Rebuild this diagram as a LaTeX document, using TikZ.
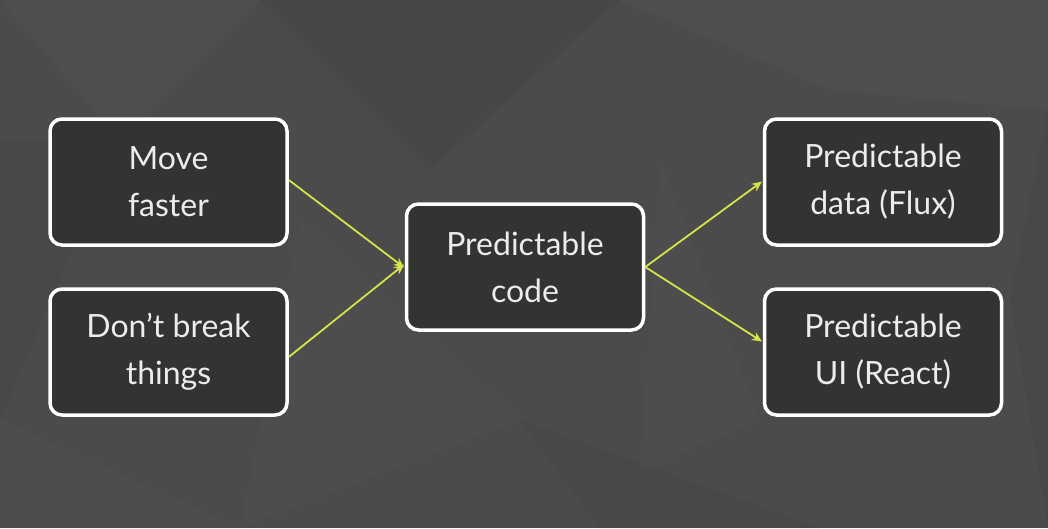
\documentclass[tikz,border=0pt]{standalone}
\usepackage{fontspec}
\setmainfont{Lato}
\usetikzlibrary{arrows.meta}
\definecolor{bgc}{HTML}{4A4B4A}
\definecolor{bgl}{HTML}{525352}
\definecolor{bgd}{HTML}{434443}
\definecolor{boxfill}{HTML}{333333}
\definecolor{txt}{HTML}{ECECEC}
\definecolor{arr}{HTML}{D6E34A}
\tikzset{
  card/.style={draw=white, line width=3.5pt, fill=boxfill, rounded corners=12pt,
    minimum width=237pt, minimum height=126pt, align=center, text=txt,
    font=\fontsize{32}{47}\selectfont, inner sep=0pt},
  link/.style={draw=arr, line width=1.8pt, -{Stealth[length=10pt,width=9pt]}, shorten >=1pt}
}
\begin{document}
\begin{tikzpicture}[x=1pt,y=-1pt]
\useasboundingbox (0,0) rectangle (1048,528);
\fill[bgc] (0,0) rectangle (1048,528);
\fill[bgl,opacity=0.45] (0,0) -- (260,0) -- (120,140) -- cycle;
\fill[bgd,opacity=0.45] (260,0) -- (620,0) -- (430,170) -- cycle;
\fill[bgl,opacity=0.4] (620,0) -- (1048,0) -- (1048,110) -- (830,90) -- cycle;
\fill[bgd,opacity=0.4] (0,140) -- (120,140) -- (0,420) -- cycle;
\fill[bgl,opacity=0.3] (300,220) -- (520,420) -- (240,528) -- cycle;
\fill[bgd,opacity=0.4] (520,420) -- (820,528) -- (600,528) -- cycle;
\fill[bgl,opacity=0.3] (660,160) -- (760,420) -- (640,470) -- cycle;
\fill[bgd,opacity=0.4] (1048,110) -- (1048,528) -- (1010,300) -- cycle;
\fill[bgl,opacity=0.3] (0,420) -- (240,528) -- (0,528) -- cycle;

\node[card] (move) at (168.5,182) {Move\\faster};
\node[card] (dont) at (168.5,352) {Don’t break\\things};
\node[card] (code) at (525,267) {Predictable\\code};
\node[card] (data) at (883,182) {Predictable\\data (Flux)};
\node[card] (ui) at (883,352) {Predictable\\UI (React)};

\draw[link] ([yshift=2pt]move.east) -- ([yshift=-1pt]code.west);
\draw[link] ([yshift=-5pt]dont.east) -- ([yshift=3pt]code.west);
\draw[link] (code.east) -- ([yshift=1pt]data.west);
\draw[link] (code.east) -- ([yshift=10pt]ui.west);
\end{tikzpicture}
\end{document}
